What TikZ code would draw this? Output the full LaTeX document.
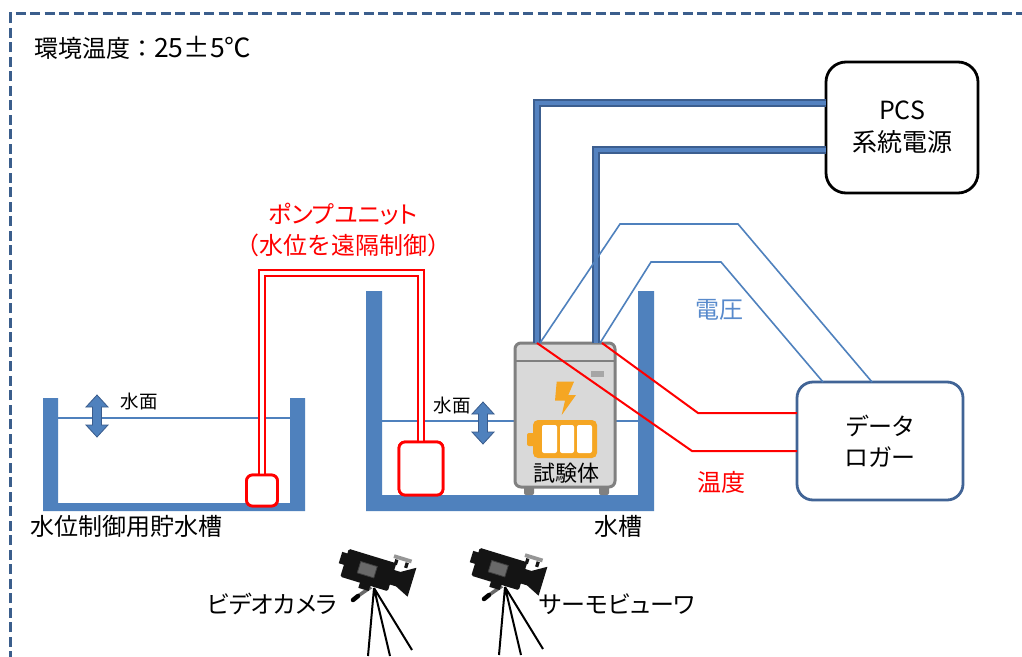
\documentclass[tikz,border=0pt]{standalone}
\usepackage{fontspec}
\setmainfont{Noto Sans CJK JP}
\newfontfamily\kanafont{Noto Sans CJK JP}[RawFeature=+palt]
\usetikzlibrary{calc}

\definecolor{frameblue}{RGB}{59,94,140}
\definecolor{tankblue}{RGB}{79,129,189}
\definecolor{arrowedge}{RGB}{58,92,140}
\definecolor{cableedge}{RGB}{60,94,143}
\definecolor{cablefill}{RGB}{84,130,192}
\definecolor{voltblue}{RGB}{88,138,204}
\definecolor{loggerblue}{RGB}{65,100,150}
\definecolor{devgray}{RGB}{217,217,217}
\definecolor{devedge}{RGB}{128,128,128}
\definecolor{devslot}{RGB}{166,166,166}
\definecolor{batt}{RGB}{245,166,35}
\definecolor{camblack}{RGB}{20,20,20}
\definecolor{camgray}{RGB}{150,150,150}
\definecolor{camscreen}{RGB}{105,105,105}

\newcommand{\tsz}[2]{\fontsize{#1pt}{#2pt}\selectfont}

\tikzset{
  label24/.style={inner sep=0pt, font=\tsz{24}{31}, align=center},
  smalllabel/.style={inner sep=0pt, font=\tsz{18.5}{22}},
  pump/.style={draw=red, line width=2.8pt, fill=white, rounded corners=6pt, inner sep=0pt, outer sep=0pt},
  pipe/.style={draw=red, line width=2.2pt, double=white, double distance=4.5pt},
  cable/.style={draw=cableedge, line width=2pt, double=cablefill, double distance=3.5pt},
  vline/.style={draw=tankblue, line width=1.6pt},
  tline/.style={draw=red, line width=2pt},
  roundbox/.style={line width=2.8pt, fill=white, inner sep=0pt, outer sep=0pt},
  devbox/.style={draw=devedge, fill=devgray, line width=3pt, rounded corners=6pt, inner sep=0pt, outer sep=0pt, minimum width=100pt, minimum height=144pt},
  levelarrow/.pic={
    \filldraw[fill=tankblue, draw=arrowedge, line width=0.8pt]
      (0,-21) -- (11,-9) -- (4.5,-9) -- (4.5,9) -- (11,9) -- (0,21)
      -- (-11,9) -- (-4.5,9) -- (-4.5,-9) -- (-11,-9) -- cycle;
  },
  camera/.pic={
    % tripod
    \draw[black, line width=2pt] (0,0) -- (-6,68) (0,0) -- (16,68) (0,0) -- (38,62);
    % pan handle
    \draw[camgray!70!black, line width=3.5pt] (-3,-1) -- (-16,8);
    \draw[black, line width=4.5pt, line cap=round] (-16,8) -- (-21,12);
    % camera body, tilted upward
    \begin{scope}[shift={(-5.7,-18)}, rotate=-17, scale=1.08]
      \fill[camblack] (-4,13) rectangle (6,18.5);
      \fill[camblack] (21,-17) rectangle (24,-12);
      \fill[camblack] (31,-17) rectangle (34,-12);
      \fill[camgray] (19,-21) rectangle (36,-17.5);
      \fill[camblack] (-28,-9) rectangle (-22,2);
      \fill[camblack, rounded corners=1.5pt] (-23,-13.5) rectangle (23,13.5);
      \fill[camblack] (22,-7) -- (29,-7) -- (42,-15) -- (42,13) -- (29,7) -- (22,7) -- cycle;
      \filldraw[fill=camscreen, draw=black!75, line width=0.8pt] (-9,-5.5) rectangle (7,5.5);
    \end{scope}
  }
}

\begin{document}
\begin{tikzpicture}[x=1pt,y=-1pt]
\useasboundingbox (0,0) rectangle (1022,656);
\fill[white] (0,0) rectangle (1022,656);

% dashed outer frame
\begin{scope}
  \clip (0,0) rectangle (1022,656);
  \draw[frameblue, line width=3pt, dash pattern=on 10pt off 4.5pt] (10.5,690) -- (10.5,13.5) -- (1040,13.5);
\end{scope}

\node[anchor=west, inner sep=0pt, font=\tsz{24}{28}] (title) at (34,48) {環境温度：{\tsz{26.5}{28}25±5℃}};

% tanks
\fill[tankblue] (43,398) -- (43,511) -- (305,511) -- (305,398) -- (290,398)
  -- (290,503) -- (58,503) -- (58,398) -- cycle;
\fill[tankblue] (366,291) -- (366,511) -- (654,511) -- (654,291) -- (638,291)
  -- (638,495) -- (382,495) -- (382,291) -- cycle;

% water surfaces
\draw[tankblue, line width=1.5pt] (58,418) -- (290,418);
\draw[tankblue, line width=1.5pt] (382,421) -- (638,421);
\pic at (97,416) {levelarrow};
\pic at (483,423) {levelarrow};
\node[smalllabel] (wsA) at (139,401) {水面};
\node[smalllabel] (wsB) at (452,405) {水面};

\node[label24] (tankA) at (126,526) {水位制御用貯水槽};
\node[label24] (tankB) at (618,526) {水槽};

% pump unit
\node[pump, minimum width=31pt, minimum height=31pt] (pumpA) at (262,490.5) {};
\node[pump, minimum width=44pt, minimum height=53pt] (pumpB) at (421,468.5) {};
\draw[pipe] (pumpA.north) -- ++(0,-202) -| (pumpB.north);
\node[pump, minimum width=31pt, minimum height=31pt] at (262,490.5) {};
\node[pump, minimum width=44pt, minimum height=53pt] at (421,468.5) {};
\node[label24, text=red] (pumplabel) at (343,230) {\kanafont ポンプユニット\\（水位を遠隔制御）};

% test specimen
\fill[devedge, rounded corners=2pt] (524,484) rectangle (534,495);
\fill[devedge, rounded corners=2pt] (599,484) rectangle (609,495);
\node[devbox] (dev) at (565,415) {};
\draw[devedge, line width=2.5pt] (515,361) -- (615,361);
\fill[devslot] (591,371) rectangle (604,377);
\fill[batt] (556.7,381.7) -- (574,381.7) -- (568.3,395) -- (576,395) -- (561.7,415)
  -- (565,400.7) -- (555,400.7) -- cycle;
\fill[batt, rounded corners=5pt] (533,420) rectangle (597,458);
\fill[batt, rounded corners=2pt] (527,433) rectangle (536,446);
\fill[white, rounded corners=2pt] (542,425) rectangle (557,453);
\fill[white, rounded corners=2pt] (560,425) rectangle (574,453);
\fill[white, rounded corners=2pt] (577,425) rectangle (592,453);
\node[inner sep=0pt, font=\tsz{22}{26}] (devlabel) at (566,473) {試験体};

% grid power source and data logger
\node[roundbox, draw=black, rounded corners=20pt, minimum width=152pt, minimum height=131pt,
  font=\tsz{25}{32}, align=center] (pcs) at (902,127.5) {PCS\\系統電源};
\node[roundbox, draw=loggerblue, rounded corners=16pt, minimum width=166pt, minimum height=118pt,
  font=\tsz{24}{31}, align=center] (dl) at (880,441) {\kanafont データ\\\kanafont ロガー};

% connection points
\coordinate (c1) at (537,343);
\coordinate (c2) at (596,343);
\coordinate (v1) at (540,343);
\coordinate (v2) at (600,343);
\coordinate (t1) at (602,343);
\coordinate (t2) at (537,343);
\coordinate (p1) at ($(pcs.west)+(0,-24.5)$);
\coordinate (p2) at ($(pcs.west)+(0,22.5)$);
\coordinate (dlA) at ($(dl.north)+(-8,0)$);
\coordinate (dlB) at ($(dl.north)+(-57,0)$);
\coordinate (r1) at ($(dl.west)+(0,-28)$);
\coordinate (r2) at ($(dl.west)+(0,10)$);

% power cables
\draw[cable] (c1) |- (p1);
\draw[cable] (c2) |- (p2);

% voltage lines
\draw[vline] (v1) -- (620,224) -- (738,224) -- (dlA);
\draw[vline] (v2) -- (651,262) -- (721,262) -- (dlB);
\node[inner sep=0pt, font=\tsz{24}{28}, text=voltblue] (vlabel) at (719,310) {電圧};

% temperature lines
\draw[tline] (t1) -- (698,413) -- (r1);
\draw[tline] (t2) -- (692,451) -- (r2);
\node[inner sep=0pt, font=\tsz{24}{28}, text=red] (tlabel) at (721,482) {温度};

% cameras
\pic at (374,588) {camera};
\pic at (505,587) {camera};
\node[inner sep=0pt, font=\tsz{24}{28}] (camA) at (272,604) {\kanafont ビデオカメラ};
\node[inner sep=0pt, font=\tsz{24}{28}] (camB) at (617,604) {\kanafont サーモビューワ};
\end{tikzpicture}
\end{document}
